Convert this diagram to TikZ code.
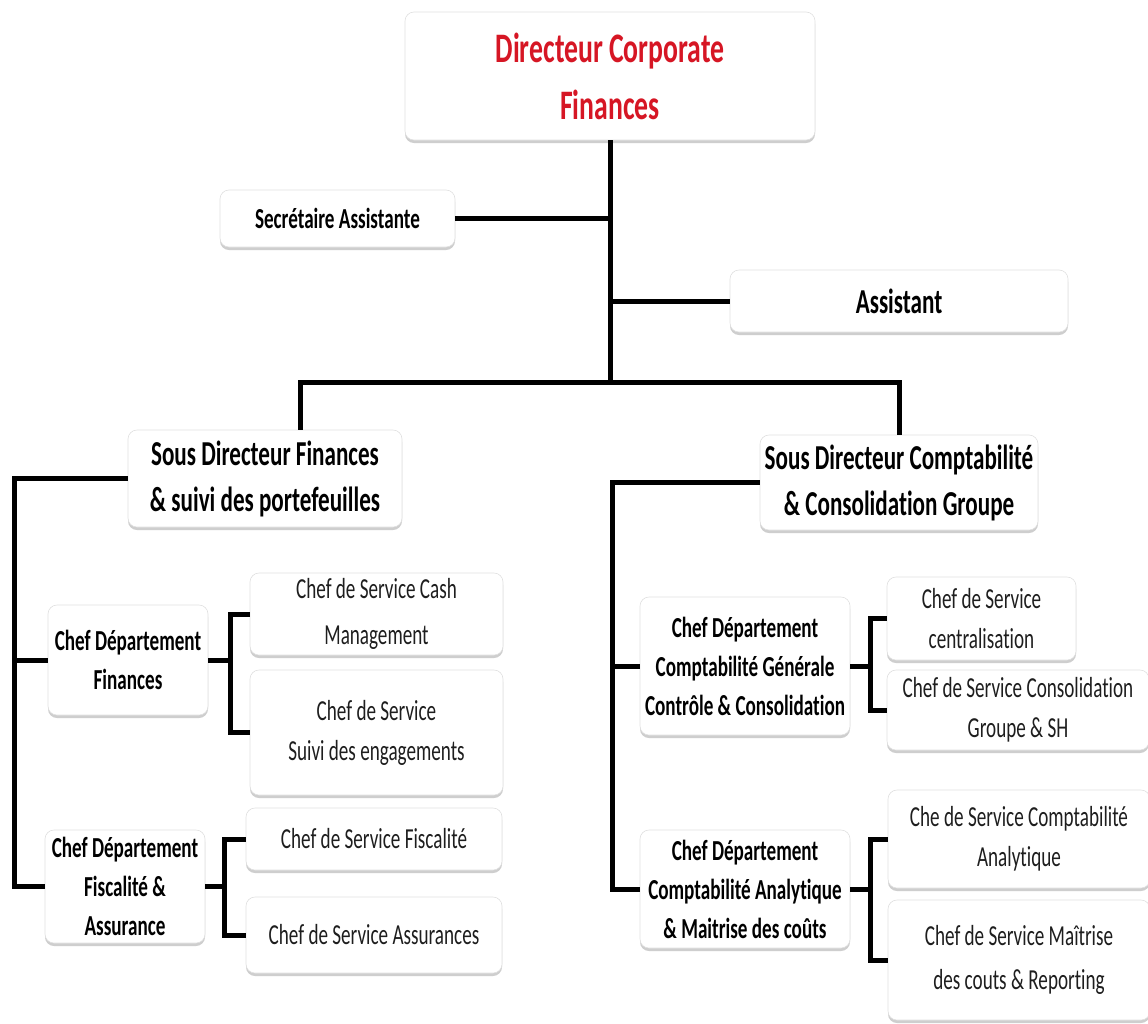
\documentclass[tikz,border=0pt]{standalone}
\usepackage{fontspec}
\setmainfont{Carlito}[FakeStretch=0.66, RawFeature={-liga}]
\usetikzlibrary{shadows}
\definecolor{titlered}{RGB}{214,22,36}
\definecolor{txtgray}{RGB}{30,30,30}
\begin{document}
\begin{tikzpicture}[x=1pt,y=-1pt,
  box/.style={draw=black!12, line width=0.6pt, fill=white, rounded corners=9pt,
    drop shadow={shadow xshift=0pt, shadow yshift=-3pt, opacity=0.35, fill=black!55},
    align=center, inner sep=2pt},
  big/.style={font=\fontsize{35}{46}\selectfont\bfseries, text=black},
  dept/.style={font=\fontsize{29}{39}\selectfont\bfseries, text=black},
  serv/.style={font=\fontsize{29}{40}\selectfont, text=txtgray},
  link/.style={line width=5pt, line join=miter, draw=black}]
\useasboundingbox (0,0) rectangle (1148,1023);
\fill[white] (0,0) rectangle (1148,1023);

% top
\node[box, minimum width=410, minimum height=128, text=titlered,
  font=\fontsize{42}{57}\selectfont\bfseries] (dir) at (610,76) {Directeur Corporate\\Finances};
\node[box, minimum width=235, minimum height=57,
  font=\fontsize{29}{36}\selectfont\bfseries] (sec) at (337.5,218.5) {Secrétaire Assistante};
\node[box, big, minimum width=338, minimum height=62] (asst) at (899,301) {Assistant};

% second level
\node[box, big, minimum width=274, minimum height=97] (sdf) at (265,478.5) {Sous Directeur Finances\\\& suivi des portefeuilles};
\node[box, big, minimum width=278, minimum height=95] (sdc) at (899,482.5) {Sous Directeur Comptabilité\\\& Consolidation Groupe};

% left branch
\node[box, dept, minimum width=160, minimum height=110] (cdfin) at (128,660) {Chef Département\\Finances};
\node[box, serv, minimum width=253, minimum height=82] (cash) at (376.5,614) {Chef de Service Cash\\[6pt]Management};
\node[box, serv, minimum width=253, minimum height=125] (suivi) at (376.5,732.5) {Chef de Service\\Suivi des engagements};
\node[box, dept, minimum width=160, minimum height=113] (cdfisc) at (125,886.5) {Chef Département\\Fiscalité \&\\Assurance};
\node[box, serv, minimum width=256, minimum height=62] (fisc) at (374,839) {Chef de Service Fiscalité};
\node[box, serv, minimum width=256, minimum height=76] (assur) at (374,935) {Chef de Service Assurances};

% right branch
\node[box, dept, minimum width=210, minimum height=138] (cdcg) at (745,666) {Chef Département\\Comptabilité Générale\\Contrôle \& Consolidation};
\node[box, serv, minimum width=189, minimum height=83] (centr) at (981.5,618.5) {Chef de Service\\centralisation};
\node[box, serv, minimum width=262, minimum height=80] (consol) at (1018,710) {Chef de Service Consolidation\\Groupe \& SH};
\node[box, dept, minimum width=210, minimum height=118] (cdca) at (745,889) {Chef Département\\Comptabilité Analytique\\\& Maitrise des coûts};
\node[box, serv, minimum width=262, minimum height=98] (cana) at (1019,839) {Che de Service Comptabilité\\Analytique};
\node[box, serv, minimum width=262, minimum height=120] (maitr) at (1019,960) {Chef de Service Maîtrise\\[4pt]des couts \& Reporting};

% junction coordinates
\coordinate (trunk) at (610,382);
\coordinate (barL) at (300,382);
\coordinate (lsp) at (14,0);
\coordinate (rsp) at (612,0);
\coordinate (f1) at (230,0);
\coordinate (f2) at (224,0);
\coordinate (g1) at (870,0);
\coordinate (g2) at (870,0);

% connectors
\draw[link] (dir.south) -- (trunk);
\draw[link] (sec.east) -- (sec.east -| trunk);
\draw[link] (asst.west) -- (asst.west -| trunk);
\draw[link] (barL |- sdf.north) -- (barL) -- (sdc.north |- trunk) -- (sdc.north);

\draw[link] (sdf.west) -- (sdf.west -| lsp) -- (lsp |- cdfisc.west) -- (cdfisc.west);
\draw[link] (lsp |- cdfin.west) -- (cdfin.west);
\draw[link] (cdfin.east) -- (cdfin.east -| f1);
\draw[link] (cash.west) -- (cash.west -| f1) -- (suivi.west -| f1) -- (suivi.west);
\draw[link] (cdfisc.east) -- (cdfisc.east -| f2);
\draw[link] (fisc.west) -- (fisc.west -| f2) -- (assur.west -| f2) -- (assur.west);

\draw[link] (sdc.west) -- (sdc.west -| rsp) -- (rsp |- cdca.west) -- (cdca.west);
\draw[link] (rsp |- cdcg.west) -- (cdcg.west);
\draw[link] (cdcg.east) -- (cdcg.east -| g1);
\draw[link] (centr.west) -- (centr.west -| g1) -- (consol.west -| g1) -- (consol.west);
\draw[link] (cdca.east) -- (cdca.east -| g2);
\draw[link] (cana.west) -- (cana.west -| g2) -- (maitr.west -| g2) -- (maitr.west);
\end{tikzpicture}
\end{document}
